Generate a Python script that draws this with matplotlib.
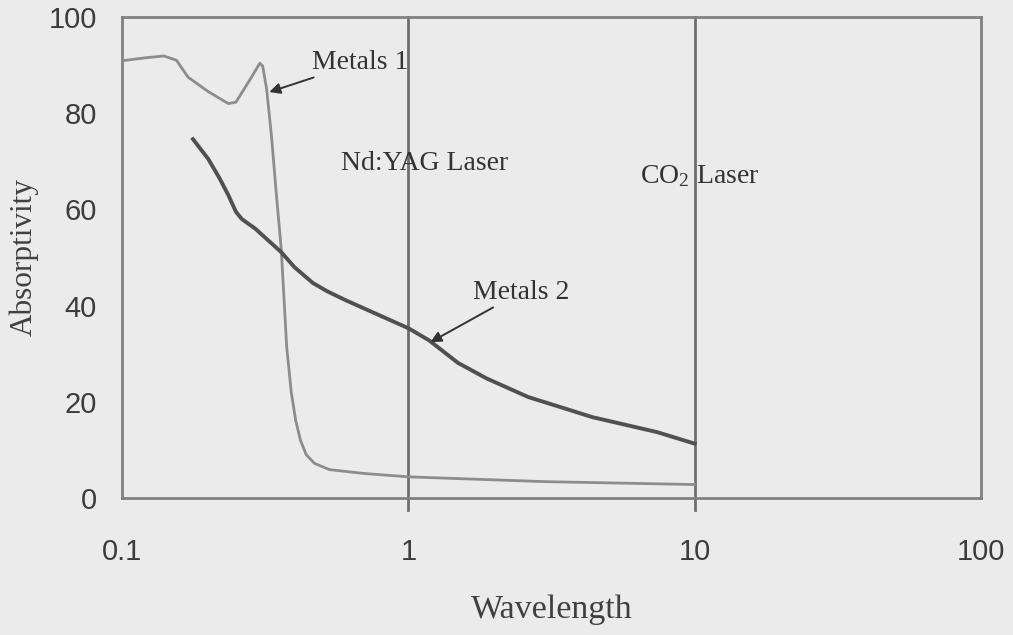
import matplotlib
matplotlib.use("Agg")
import matplotlib.pyplot as plt

# ---- data ----
metals1_wl = [0.1, 0.12, 0.14, 0.155, 0.17, 0.2, 0.235, 0.25, 0.28, 0.303, 0.31, 0.32, 0.333, 0.345,
              0.36, 0.376, 0.39, 0.404, 0.42, 0.44, 0.47, 0.53, 0.7, 1.0, 3.0, 10.0]
metals1_ab = [90.9, 91.5, 91.9, 91.0, 87.5, 84.5, 82.0, 82.3, 87.0, 90.4, 89.8, 85.0, 75.0, 64.0,
              51.6, 31.4, 22.0, 16.2, 12.0, 9.0, 7.2, 5.9, 5.1, 4.4, 3.4, 2.8]

metals2_wl = [0.177, 0.20, 0.219, 0.235, 0.25, 0.262, 0.292, 0.36, 0.40, 0.464, 0.52, 0.60, 1.0,
              1.18, 1.49, 1.87, 2.62, 4.40, 7.39, 10.0]
metals2_ab = [74.6, 70.5, 66.5, 63.0, 59.5, 58.0, 56.0, 51.1, 48.0, 44.7, 43.0, 41.2, 35.3,
              32.8, 28.1, 24.9, 21.0, 16.8, 13.7, 11.3]

laser_lines = [1, 10]
x_ticks = [0.1, 1, 10, 100]
x_tick_labels = ["0.1", "1", "10", "100"]
y_ticks = [0, 20, 40, 60, 80, 100]
y_tick_labels = ["0", "20", "40", "60", "80", "100"]

plt.rcParams["mathtext.fontset"] = "custom"
plt.rcParams["mathtext.rm"] = "Liberation Serif"
plt.rcParams["mathtext.it"] = "Liberation Serif"

W, H = 1013, 635
bg = "#ebebeb"
fig = plt.figure(figsize=(W / 100, H / 100), dpi=100, facecolor=bg)
ax = fig.add_axes([122 / W, 1 - 498 / H, (981 - 122) / W, (498 - 17) / H])
ax.set_facecolor(bg)

ax.set_xscale("log")
ax.set_xlim(0.1, 100)
ax.set_ylim(0, 100)

for x in laser_lines:
    ax.axvline(x, ymin=-0.025, ymax=1, color="#6e6e6e", lw=2.0, clip_on=False, zorder=2)

ax.plot(metals1_wl, metals1_ab, color="#8c8c8c", lw=2.0, zorder=3, solid_joinstyle="round")
ax.plot(metals2_wl, metals2_ab, color="#505050", lw=2.8, zorder=3, solid_joinstyle="round")

for s in ax.spines.values():
    s.set_color("#808080")
    s.set_linewidth(2.0)

ax.set_xticks(x_ticks, x_tick_labels)
ax.set_yticks(y_ticks, y_tick_labels)
ax.xaxis.set_minor_locator(matplotlib.ticker.NullLocator())
ax.tick_params(axis="x", length=0, pad=29, labelsize=21, labelcolor="#3c3c3c")
ax.tick_params(axis="y", length=0, pad=18, labelsize=21, labelcolor="#3c3c3c")
for lbl in ax.get_xticklabels() + ax.get_yticklabels():
    lbl.set_fontfamily("Liberation Sans")

ax.set_xlabel("Wavelength", fontfamily="Liberation Serif", fontsize=24.5, color="#404040", labelpad=20)
ax.set_ylabel("Absorptivity", fontfamily="Liberation Serif", fontsize=22.5, color="#404040", labelpad=7)

tkw = dict(fontfamily="Liberation Serif", fontsize=20, color="#333333", ha="center", va="center")
ax.text(1.14, 69.6, "Nd:YAG Laser", **tkw)
ax.text(10.4, 66.9, r"CO$_\mathrm{2}$ Laser", **tkw)

akw = dict(arrowstyle="-|>", color="#333333", lw=1.4, mutation_scale=16, shrinkA=0, shrinkB=0)
ax.annotate("Metals 1", xy=(0.327, 84.4), xytext=(0.679, 90.6), arrowprops=akw, **tkw)
ax.annotate("Metals 2", xy=(1.195, 32.4), xytext=(2.47, 42.8), arrowprops=akw, **tkw)

fig.savefig("out.png", dpi=100, facecolor=bg)
